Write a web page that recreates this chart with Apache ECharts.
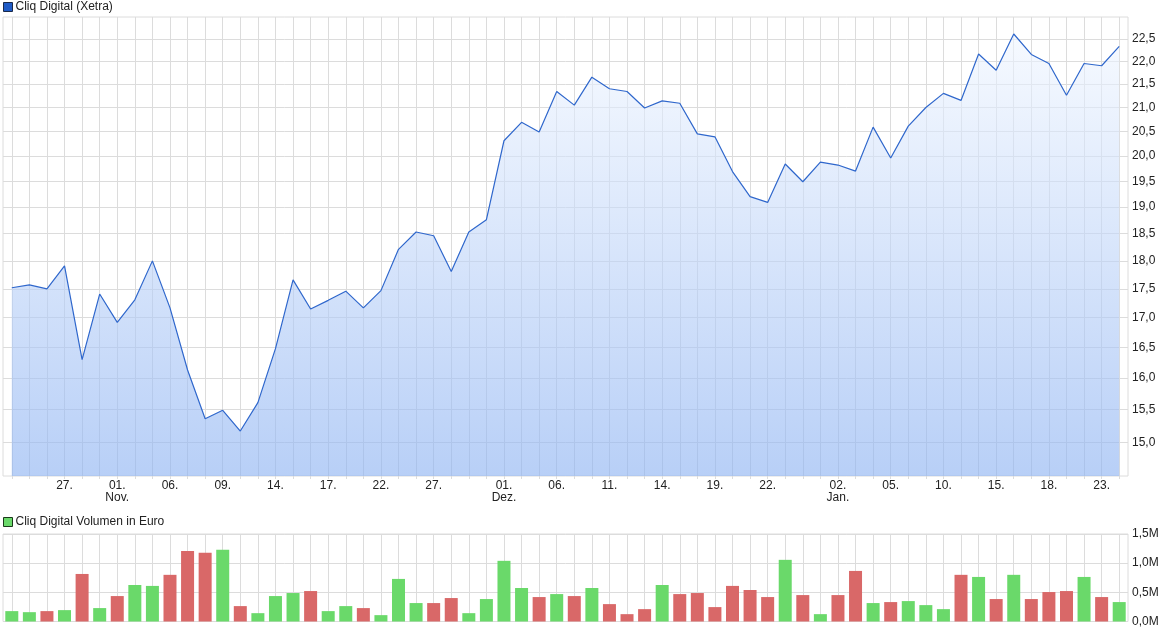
<!DOCTYPE html>
<html><head><meta charset="utf-8">
<script src="https://cdn.jsdelivr.net/npm/echarts@6/dist/echarts.min.js"></script>
<style>html,body{margin:0;padding:0;background:#fff}#c{width:1175px;height:633px}</style>
</head><body><div id="c"></div>
<script>
const dates = ['2023-10-24','2023-10-25','2023-10-26','2023-10-27','2023-10-30','2023-10-31','2023-11-01','2023-11-02','2023-11-03','2023-11-06','2023-11-07','2023-11-08','2023-11-09','2023-11-10','2023-11-13','2023-11-14','2023-11-15','2023-11-16','2023-11-17','2023-11-20','2023-11-21','2023-11-22','2023-11-23','2023-11-24','2023-11-27','2023-11-28','2023-11-29','2023-11-30','2023-12-01','2023-12-04','2023-12-05','2023-12-06','2023-12-07','2023-12-08','2023-12-11','2023-12-12','2023-12-13','2023-12-14','2023-12-15','2023-12-18','2023-12-19','2023-12-20','2023-12-21','2023-12-22','2023-12-27','2023-12-28','2023-12-29','2024-01-02','2024-01-03','2024-01-04','2024-01-05','2024-01-08','2024-01-09','2024-01-10','2024-01-11','2024-01-12','2024-01-15','2024-01-16','2024-01-17','2024-01-18','2024-01-19','2024-01-22','2024-01-23','2024-01-24'];
const prices = [17.52,17.57,17.50,17.91,16.30,17.41,16.92,17.31,18.00,17.17,16.13,15.36,15.49,15.17,15.61,16.48,17.66,17.15,17.30,17.46,17.17,17.47,18.21,18.53,18.46,17.81,18.53,18.76,20.31,20.69,20.49,21.34,21.05,21.65,21.40,21.34,20.99,21.14,21.09,20.45,20.39,19.69,19.20,19.09,19.84,19.49,19.88,19.82,19.70,20.59,19.96,20.61,21.00,21.30,21.15,22.16,21.80,22.61,22.15,21.95,21.26,21.95,21.90,22.33];
const volumes = [178000,160000,178000,195000,815000,230000,436000,626000,610000,800000,1210000,1180000,1230000,264000,143000,436000,488000,522000,178000,264000,230000,109000,730000,316000,316000,402000,143000,385000,1040000,574000,419000,470000,436000,574000,298000,126000,212000,626000,470000,488000,247000,610000,540000,419000,1057000,453000,126000,453000,867000,316000,333000,350000,281000,212000,800000,764000,385000,800000,385000,505000,522000,764000,419000,333000];
const priceTicks = [15,15.5,16,16.5,17,17.5,18,18.5,19,19.5,20,20.5,21,21.5,22,22.5];
const labelDates = ['2023-10-27','2023-11-01','2023-11-06','2023-11-09','2023-11-14','2023-11-17','2023-11-22','2023-11-27','2023-12-01','2023-12-06','2023-12-11','2023-12-14','2023-12-19','2023-12-22','2024-01-02','2024-01-05','2024-01-10','2024-01-15','2024-01-18','2024-01-23'];
const monthLabels = {'2023-11-01':'Nov.','2023-12-01':'Dez.','2024-01-02':'Jan.'};

const FONT = '"Liberation Sans", Arial, sans-serif';
const TXT = '#222';
const GRID = '#dcdcdc';
const UP = '#6ad96a', DOWN = '#d96868';

const barData = volumes.map((v, i) => ({
  value: v,
  itemStyle: { color: (i === 0 || prices[i] >= prices[i - 1]) ? UP : DOWN }
}));

const chart = echarts.init(document.getElementById('c'), null, { renderer: 'canvas' });
chart.setOption({
  animation: false,
  backgroundColor: '#fff',
  textStyle: { fontFamily: FONT },
  legend: [
    { left: 3, top: 1, padding: 0, icon: 'rect', itemWidth: 9, itemHeight: 9,
      textStyle: { fontFamily: FONT, fontSize: 12, color: TXT, padding: [0, 0, 0, -2] },
      data: [{ name: 'Cliq Digital (Xetra)', itemStyle: { color: '#1f5bc6', borderColor: '#1a2a4a', borderWidth: 1 } }] },
    { left: 3, top: 516, padding: 0, icon: 'rect', itemWidth: 9, itemHeight: 9,
      textStyle: { fontFamily: FONT, fontSize: 12, color: TXT, padding: [0, 0, 0, -2] },
      data: [{ name: 'Cliq Digital Volumen in Euro', itemStyle: { color: UP, borderColor: '#1a3a1a', borderWidth: 1 } }] }
  ],
  grid: [
    { left: 3, right: 47, top: 17, height: 459, show: true, borderColor: GRID, borderWidth: 1, backgroundColor: '#fff' },
    { left: 3, right: 47, top: 534, height: 87.5, show: true, borderColor: GRID, borderWidth: 1, backgroundColor: '#fff' }
  ],
  xAxis: [
    { type: 'category', gridIndex: 0, data: dates, boundaryGap: true,
      axisLine: { show: false },
      axisTick: { show: true, alignWithLabel: true, interval: 0, length: 3, lineStyle: { color: GRID } },
      splitLine: { show: true, interval: 0, alignWithLabel: true, lineStyle: { color: GRID, width: 1 } },
      axisLabel: {
        interval: (idx, val) => labelDates.indexOf(val) >= 0,
        margin: 4, fontSize: 12, lineHeight: 12, color: TXT, fontFamily: FONT,
        formatter: (val) => {
          const d = val.slice(8, 10) + '.';
          return monthLabels[val] ? d + '\n' + monthLabels[val] : d;
        }
      }
    },
    { type: 'category', gridIndex: 1, data: dates, boundaryGap: true,
      axisLine: { show: false }, axisTick: { show: false }, axisLabel: { show: false },
      splitLine: { show: true, interval: 0, alignWithLabel: true, lineStyle: { color: GRID, width: 1 } }
    }
  ],
  yAxis: [
    { type: 'log', gridIndex: 0, position: 'right', min: 14.5, max: 23,
      axisLine: { show: false },
      axisTick: { show: false, customValues: priceTicks },
      splitLine: { show: true, lineStyle: { color: GRID, width: 1 } },
      axisLabel: { customValues: priceTicks, margin: 4, fontSize: 12, color: TXT, fontFamily: FONT,
        formatter: (v) => Number(v).toFixed(1).replace('.', ',') }
    },
    { type: 'value', gridIndex: 1, position: 'right', min: 0, max: 1500000, interval: 500000,
      axisLine: { show: false }, axisTick: { show: false },
      splitLine: { show: true, lineStyle: { color: GRID, width: 1 } },
      axisLabel: { margin: 4, fontSize: 12, color: TXT, fontFamily: FONT,
        formatter: (v) => (v / 1e6).toFixed(1).replace('.', ',') + 'M' }
    }
  ],
  series: [
    { name: 'Cliq Digital (Xetra)', type: 'line', xAxisIndex: 0, yAxisIndex: 0, data: prices,
      symbol: 'none', smooth: false, color: '#1f5bc6',
      lineStyle: { color: '#2f67cc', width: 1.2 },
      areaStyle: { origin: 'start', opacity: 1, color: new echarts.graphic.LinearGradient(0, 0, 0, 1, [
        { offset: 0, color: 'rgba(240,246,255,0.6)' },
        { offset: 1, color: 'rgba(140,178,242,0.62)' }
      ]) }
    },
    { name: 'Cliq Digital Volumen in Euro', type: 'bar', xAxisIndex: 1, yAxisIndex: 1, data: barData,
      color: UP, barWidth: 13 }
  ]
});
</script></body></html>
